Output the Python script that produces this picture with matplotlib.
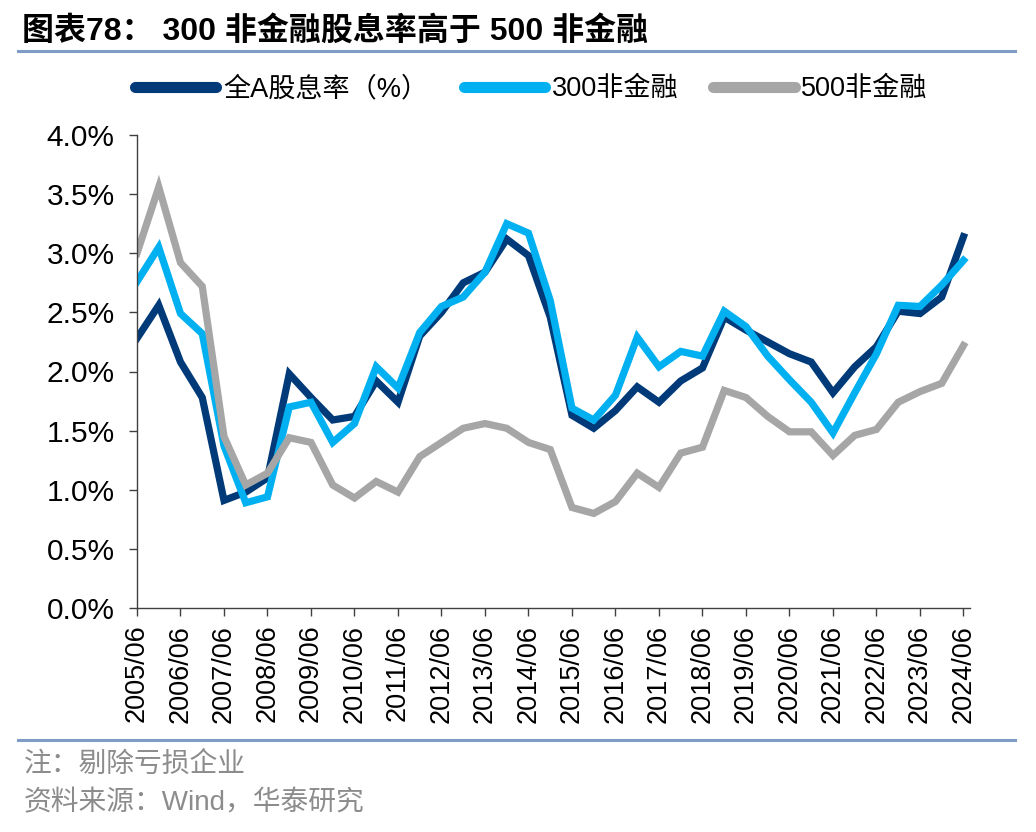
import numpy as np
import matplotlib
matplotlib.use("Agg")
import matplotlib.pyplot as plt
from matplotlib.ticker import FuncFormatter

plt.rcParams['font.family'] = ['Liberation Sans', 'Noto Sans CJK SC', 'DejaVu Sans']

# semi-annual observations, 2005/06 .. 2024/06
periods = [f"{y}/{m}" for y in range(2005, 2025) for m in ("06", "12")][:-1]
year_labels = [f"{y}/06" for y in range(2005, 2025)]

all_a = [2.28, 2.56, 2.08, 1.78, 0.91, 0.98, 1.10, 1.98, 1.78, 1.59,
         1.62, 1.92, 1.74, 2.30, 2.50, 2.75, 2.84, 3.12, 2.98, 2.46,
         1.63, 1.52, 1.67, 1.87, 1.74, 1.92, 2.03, 2.46, 2.35, 2.25,
         2.15, 2.08, 1.82, 2.04, 2.21, 2.51, 2.49, 2.63, 3.14]
csi300_nonfin = [2.76, 3.05, 2.49, 2.32, 1.37, 0.89, 0.94, 1.70, 1.74, 1.40,
                 1.56, 2.04, 1.86, 2.33, 2.55, 2.63, 2.84, 3.25, 3.17, 2.60,
                 1.69, 1.59, 1.80, 2.29, 2.04, 2.17, 2.13, 2.51, 2.38, 2.13,
                 1.93, 1.74, 1.48, 1.82, 2.15, 2.56, 2.55, 2.73, 2.94]
csi500_nonfin = [3.00, 3.56, 2.92, 2.72, 1.45, 1.04, 1.14, 1.44, 1.40, 1.04,
                 0.93, 1.07, 0.98, 1.28, 1.40, 1.52, 1.56, 1.52, 1.40, 1.34,
                 0.85, 0.80, 0.90, 1.14, 1.02, 1.31, 1.36, 1.84, 1.78, 1.62,
                 1.49, 1.49, 1.29, 1.46, 1.51, 1.74, 1.83, 1.90, 2.22]

fig = plt.figure(figsize=(10.36, 8.32), dpi=100)
ax = fig.add_axes([137 / 1036, (832 - 608) / 832, 833 / 1036, 473 / 832])

x = np.arange(len(periods))
ax.plot(x, all_a, color='#003A78', lw=5.2, label='全A股息率（%）', solid_joinstyle='miter')
ax.plot(x, csi300_nonfin, color='#00B0F0', lw=5.2, label='300非金融', solid_joinstyle='miter')
ax.plot(x, csi500_nonfin, color='#A6A6A6', lw=5.2, label='500非金融', solid_joinstyle='miter')

ax.set_ylim(0, 4.0)
ax.set_yticks(np.arange(0, 4.01, 0.5))
ax.yaxis.set_major_formatter(FuncFormatter(lambda v, p: f"{v:.1f}%"))
ax.set_xlim(0, 38.3)
ax.set_xticks(np.arange(0, len(periods), 2))
ax.set_xticklabels(year_labels, rotation=90)

for s in ('top', 'right'):
    ax.spines[s].set_visible(False)
for s in ('left', 'bottom'):
    ax.spines[s].set_color('#404040')
    ax.spines[s].set_linewidth(1.0)
ax.tick_params(axis='both', direction='out', length=6, width=1, color='#404040',
               labelcolor='black')
ax.tick_params(axis='y', labelsize=21.5, pad=10)
ax.tick_params(axis='x', labelsize=19.5, pad=6)

leg = fig.legend(loc='center', bbox_to_anchor=(0.513, 0.893), ncol=3, frameon=False,
                 fontsize=19.5, handlelength=3.0, columnspacing=1.3, handletextpad=0.25)
for h in leg.get_lines():
    h.set_linewidth(8)
    h.set_solid_capstyle('round')

fig.text(22 / 1036, 1 - 31 / 832, '图表78： 300 非金融股息率高于 500 非金融',
         fontsize=23, fontweight='bold', va='center', ha='left')
fig.add_artist(plt.Line2D([18 / 1036, 1015 / 1036], [1 - 51 / 832] * 2,
                          color='#7F9CC4', lw=2.2))
fig.add_artist(plt.Line2D([18 / 1036, 1015 / 1036], [1 - 740 / 832] * 2,
                          color='#7F9CC4', lw=2.2))
fig.text(24 / 1036, 1 - 765 / 832, '注：剔除亏损企业', fontsize=20, color='#8C8C8C',
         va='center', ha='left')
fig.text(24 / 1036, 1 - 803 / 832, '资料来源：Wind，华泰研究', fontsize=20, color='#8C8C8C',
         va='center', ha='left')

fig.savefig('out.png', dpi=100)
